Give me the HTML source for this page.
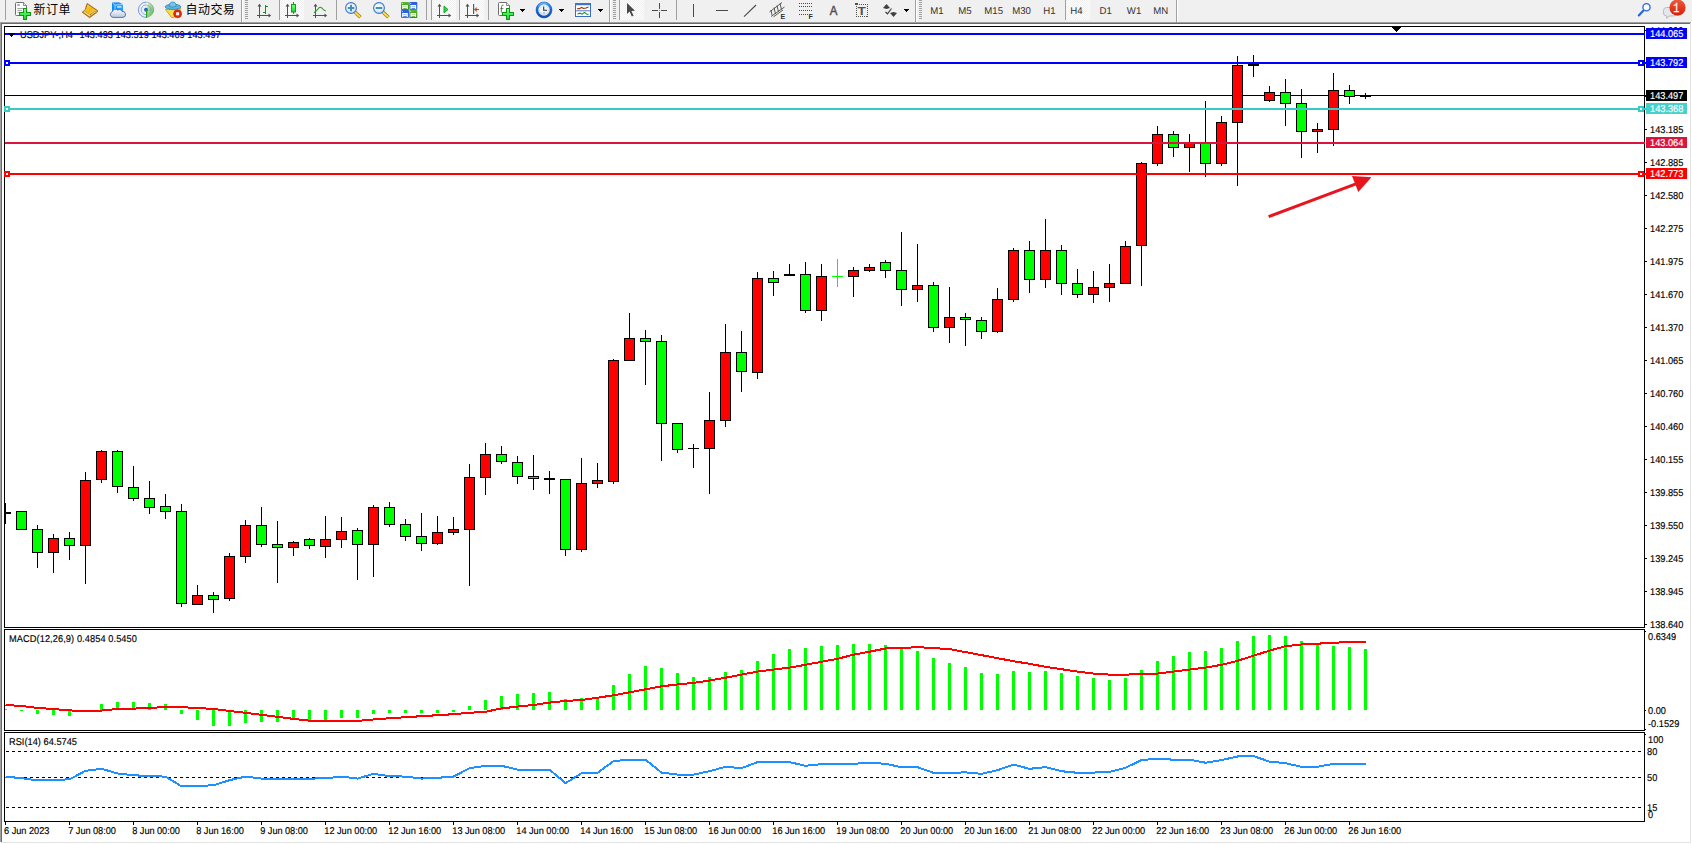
<!DOCTYPE html>
<html lang="zh"><head><meta charset="utf-8"><title>USDJPY H4</title>
<style>
html,body{margin:0;padding:0}
body{width:1692px;height:844px;overflow:hidden;position:relative;background:#fff;font-family:"Liberation Sans","Noto Sans CJK SC",sans-serif}
#tb{position:absolute;left:0;top:0;width:1692px;height:22px;background:#F0F0F0}
.fr{position:absolute}
svg#ch{position:absolute;left:0;top:0}
svg#ch text{font-family:"Liberation Sans","Noto Sans CJK SC",sans-serif;font-size:9.9px;text-rendering:geometricPrecision}
</style></head><body>
<div id="tb"><svg width="1692" height="22" viewBox="0 0 1692 22" style="position:absolute;left:0;top:0;font-family:'Liberation Sans','Noto Sans CJK SC',sans-serif">
<defs>
<pattern id="chk" width="2" height="2" patternUnits="userSpaceOnUse"><rect width="2" height="2" fill="#fff"/><rect width="1" height="1" fill="#F0F0F0"/><rect x="1" y="1" width="1" height="1" fill="#F0F0F0"/></pattern>
<linearGradient id="gplus" x1="0" y1="0" x2="0" y2="1"><stop offset="0" stop-color="#7CFF8C"/><stop offset="1" stop-color="#12D62A"/></linearGradient>
<linearGradient id="ggold" x1="0" y1="0" x2="1" y2="1"><stop offset="0" stop-color="#FFE14A"/><stop offset="0.5" stop-color="#EDB616"/><stop offset="1" stop-color="#F8D860"/></linearGradient>
<linearGradient id="gcloud" x1="0" y1="0" x2="0" y2="1"><stop offset="0" stop-color="#FFFFFF"/><stop offset="1" stop-color="#B8C6DE"/></linearGradient>
<linearGradient id="gblue" x1="0" y1="0" x2="1" y2="0"><stop offset="0" stop-color="#0A8CF5"/><stop offset="1" stop-color="#2AA0FF"/></linearGradient>
<radialGradient id="glens" cx="0.4" cy="0.35" r="0.7"><stop offset="0" stop-color="#FFFFFF"/><stop offset="1" stop-color="#C4E2F5"/></radialGradient>
<linearGradient id="gbadge" x1="0" y1="0" x2="0" y2="1"><stop offset="0" stop-color="#EC5A3C"/><stop offset="1" stop-color="#D81E08"/></linearGradient>
<radialGradient id="gclock" cx="0.5" cy="0.4" r="0.6"><stop offset="0" stop-color="#FFFFFF"/><stop offset="1" stop-color="#D8E4F0"/></radialGradient>
<linearGradient id="gsig" x1="0" y1="0" x2="1" y2="1"><stop offset="0" stop-color="#E4F0DC"/><stop offset="1" stop-color="#3CA83C"/></linearGradient>
<linearGradient id="ggreen" x1="0" y1="0" x2="0" y2="1"><stop offset="0" stop-color="#5CB830"/><stop offset="1" stop-color="#2E9010"/></linearGradient>
<linearGradient id="gblu2" x1="0" y1="0" x2="0" y2="1"><stop offset="0" stop-color="#2A5CD8"/><stop offset="1" stop-color="#3C78F0"/></linearGradient>
<linearGradient id="gring" x1="0" y1="0" x2="0" y2="1"><stop offset="0" stop-color="#3C9CF4"/><stop offset="0.5" stop-color="#1466D4"/><stop offset="1" stop-color="#0C50B8"/></linearGradient>
</defs>
<rect x="5" y="0" width="1" height="20" fill="#A0A0A0" shape-rendering="crispEdges"/>
<path d="M16.5,2.5 h7 l3,3 v10 h-10 a1,1 0 0 1 -1,-1 v-11 a1,1 0 0 1 1,-1 z" fill="#fff" stroke="#6E6E6E" stroke-width="1"/>
<path d="M23.5,2.5 v3 h3" fill="#E8E8E8" stroke="#6E6E6E" stroke-width="0.8"/>
<rect x="17" y="4.3" width="3" height="1.4" fill="#9A9A9A"/><g stroke="#9A9A9A" stroke-width="0.9"><line x1="17.3" y1="8.5" x2="23" y2="8.5"/><line x1="17.3" y1="10.4" x2="22" y2="10.4"/><line x1="17.3" y1="12.3" x2="20" y2="12.3"/></g>
<path d="M23.5,8.5 h3 v4.0 h4.0 v3 h-4.0 v4.0 h-3 v-4.0 h-4.0 v-3 h4.0 z" fill="url(#gplus)" stroke="#0C980C" stroke-width="1" shape-rendering="crispEdges"/>
<text x="33.6" y="13.8" font-size="12" letter-spacing="0.5" fill="#000">新订单</text>
<path d="M87.2,3.4 L97.6,10.6 L97.4,12 L89.6,17.7 L82.2,12.2 Q86.6,9.6 86,6.6 Z" fill="#B87A14" stroke="#A4660C" stroke-width="0.8" stroke-linejoin="round"/>
<path d="M87.6,4.6 L96.2,10.6 L89.8,14.6 L84.2,10.8 Q87.2,8.6 87,6.4 Z" fill="url(#ggold)"/>
<path d="M83.4,12 L89.6,16.4 L90.2,15.2 L84.4,11.2 Z" fill="#F8E08C"/><path d="M90.4,15.4 L96.8,11" stroke="#E8D8A0" stroke-width="0.9" fill="none"/>
<path d="M112,2.6 L119,2.2 L123,4.2 L123,11.5 L112,11.5 Z" fill="url(#gblue)"/>
<path d="M112.6,3 L115,5 V11.5 M115,5 L123,4.6" stroke="#DDF0FF" stroke-width="0.7" fill="none"/><rect x="117" y="6.3" width="4.5" height="1.3" fill="#E8F4FF"/>
<path d="M113,17.4 a3,3 0 0 1 -0.6,-5.8 a3.2,3.2 0 0 1 5.4,-1.4 a2.6,2.6 0 0 1 4.2,1.2 a3,3 0 0 1 1,6 z" fill="url(#gcloud)" stroke="#4A68A8" stroke-width="0.9"/>
<circle cx="146" cy="9.8" r="7.6" fill="#EEF2F8"/>
<path d="M146,9.8 L146,17.6 A7.8,7.8 0 0 0 148.5,2.4 Z" fill="url(#gsig)" opacity="0.9"/>
<g fill="none" stroke="#3A6CD8" stroke-width="0.9" opacity="0.75"><path d="M146,2.2 A7.6,7.6 0 0 0 146,17.4"/><path d="M146,5 A4.8,4.8 0 0 0 146,14.6" opacity="0.8"/></g>
<g fill="none" stroke="#3E7A80" stroke-width="0.8" opacity="0.5"><path d="M146,2.2 A7.6,7.6 0 0 1 153,13"/><path d="M146,5 A4.8,4.8 0 0 1 150.6,11"/></g>
<circle cx="146" cy="9.8" r="2" fill="#2A62D4"/><rect x="146" y="9.8" width="1.2" height="8" fill="#1EA41E"/>
<path d="M165.4,9.4 L180.8,8.6 L174,17.6 L171.5,17.4 Z" fill="#F6DC48" stroke="#C8A208" stroke-width="0.9" stroke-linejoin="round"/>
<ellipse cx="173" cy="6.8" rx="7.8" ry="2.6" fill="#62B4E4" stroke="#2C8CB4" stroke-width="0.9"/><path d="M169.3,6.3 Q169.3,2 172.8,2 Q176.2,2 176.2,6.3 Q172.8,8 169.3,6.3 Z" fill="#7AC2EC" stroke="#2C8CB4" stroke-width="0.8"/>
<circle cx="177.6" cy="13.8" r="4" fill="#E42A0A" stroke="#C01800" stroke-width="0.6"/><rect x="176.1" y="12.3" width="3" height="3" fill="#fff"/>
<text x="185.6" y="13.7" font-size="12" letter-spacing="0.4" fill="#000">自动交易</text>
<rect x="241" y="0" width="1" height="22" fill="#A0A0A0" shape-rendering="crispEdges"/>
<rect x="242" y="0" width="1" height="22" fill="#fff" shape-rendering="crispEdges"/>
<rect x="245" y="0" width="3" height="1" fill="#A0A0A0" shape-rendering="crispEdges"/>
<rect x="245" y="2" width="3" height="1" fill="#A0A0A0" shape-rendering="crispEdges"/>
<rect x="245" y="4" width="3" height="1" fill="#A0A0A0" shape-rendering="crispEdges"/>
<rect x="245" y="6" width="3" height="1" fill="#A0A0A0" shape-rendering="crispEdges"/>
<rect x="245" y="8" width="3" height="1" fill="#A0A0A0" shape-rendering="crispEdges"/>
<rect x="245" y="10" width="3" height="1" fill="#A0A0A0" shape-rendering="crispEdges"/>
<rect x="245" y="12" width="3" height="1" fill="#A0A0A0" shape-rendering="crispEdges"/>
<rect x="245" y="14" width="3" height="1" fill="#A0A0A0" shape-rendering="crispEdges"/>
<rect x="245" y="16" width="3" height="1" fill="#A0A0A0" shape-rendering="crispEdges"/>
<rect x="245" y="18" width="3" height="1" fill="#A0A0A0" shape-rendering="crispEdges"/>
<g fill="#505050" shape-rendering="crispEdges"><rect x="259" y="5" width="1" height="13"/><rect x="257" y="15" width="13" height="1"/></g>
<polygon points="257.5,6.5 259.5,3.8 261.5,6.5" fill="#505050"/><polygon points="268.5,13.5 271.2,15.5 268.5,17.5" fill="#505050"/>
<g fill="#109410" shape-rendering="crispEdges"><rect x="265" y="5" width="1" height="9"/><rect x="266" y="6" width="2" height="1"/><rect x="263" y="12" width="2" height="1"/></g>
<rect x="279" y="0" width="1" height="20" fill="#A0A0A0" shape-rendering="crispEdges"/>
<rect x="280" y="0" width="24" height="20" fill="url(#chk)" shape-rendering="crispEdges"/>
<g fill="#505050" shape-rendering="crispEdges"><rect x="287" y="5" width="1" height="13"/><rect x="285" y="15" width="13" height="1"/></g>
<polygon points="285.5,6.5 287.5,3.8 289.5,6.5" fill="#505050"/><polygon points="296.5,13.5 299.2,15.5 296.5,17.5" fill="#505050"/>
<rect x="293" y="2" width="1" height="12" fill="#10A010" shape-rendering="crispEdges"/><rect x="291.5" y="4.5" width="4" height="7.5" fill="url(#gplus)" stroke="#10A010" stroke-width="1"/>
<g fill="#505050" shape-rendering="crispEdges"><rect x="315" y="5" width="1" height="13"/><rect x="313" y="15" width="13" height="1"/></g>
<polygon points="313.5,6.5 315.5,3.8 317.5,6.5" fill="#505050"/><polygon points="324.5,13.5 327.2,15.5 324.5,17.5" fill="#505050"/>
<path d="M314,12.8 Q317,10.5 318.6,8.2 Q320.2,6.4 321.8,8 Q323.6,10.2 325.8,11" fill="none" stroke="#2E9A2E" stroke-width="1.1"/>
<rect x="336" y="0" width="1" height="20" fill="#A0A0A0" shape-rendering="crispEdges"/>
<line x1="354.6" y1="11.8" x2="360.4" y2="17.3" stroke="#B48410" stroke-width="3.6"/><line x1="354.6" y1="11.8" x2="360" y2="16.9" stroke="#F6E25C" stroke-width="1.8"/>
<circle cx="351" cy="8" r="5.4" fill="url(#glens)" stroke="#3A78C8" stroke-width="1.1"/>
<rect x="347.8" y="7" width="6.4" height="2" fill="#4A8CB4"/>
<rect x="350" y="4.8" width="2" height="6.4" fill="#4A8CB4"/>
<line x1="382.6" y1="11.8" x2="388.4" y2="17.3" stroke="#B48410" stroke-width="3.6"/><line x1="382.6" y1="11.8" x2="388" y2="16.9" stroke="#F6E25C" stroke-width="1.8"/>
<circle cx="379" cy="8" r="5.4" fill="url(#glens)" stroke="#3A78C8" stroke-width="1.1"/>
<rect x="375.8" y="7" width="6.4" height="2" fill="#4A8CB4"/>
<rect x="401" y="2" width="8" height="8" rx="0.8" fill="url(#ggreen)"/><rect x="402.2" y="5" width="5.6" height="4" fill="#fff"/><rect x="403.2" y="6.3" width="3.6" height="0.9" fill="#9CD078"/><rect x="403.2" y="8.2" width="3.6" height="0.8" fill="url(#ggreen)"/><rect x="401.9" y="2.9" width="1" height="1" fill="#fff" opacity="0.8"/>
<rect x="409.3" y="2" width="8" height="8" rx="0.8" fill="url(#gblu2)"/><rect x="410.5" y="5" width="5.6" height="4" fill="#fff"/><rect x="411.5" y="6.3" width="3.6" height="0.9" fill="#8CB0F4"/><rect x="411.5" y="8.2" width="3.6" height="0.8" fill="url(#gblu2)"/><rect x="410.2" y="2.9" width="1" height="1" fill="#fff" opacity="0.8"/>
<rect x="401" y="10" width="8" height="8" rx="0.8" fill="url(#gblu2)"/><rect x="402.2" y="13" width="5.6" height="4" fill="#fff"/><rect x="403.2" y="14.3" width="3.6" height="0.9" fill="#8CB0F4"/><rect x="403.2" y="16.2" width="3.6" height="0.8" fill="url(#gblu2)"/><rect x="401.9" y="10.9" width="1" height="1" fill="#fff" opacity="0.8"/>
<rect x="409.3" y="10" width="8" height="8" rx="0.8" fill="url(#ggreen)"/><rect x="410.5" y="13" width="5.6" height="4" fill="#fff"/><rect x="411.5" y="14.3" width="3.6" height="0.9" fill="#9CD078"/><rect x="411.5" y="16.2" width="3.6" height="0.8" fill="url(#ggreen)"/><rect x="410.2" y="10.9" width="1" height="1" fill="#fff" opacity="0.8"/>
<rect x="426" y="0" width="1" height="20" fill="#A0A0A0" shape-rendering="crispEdges"/>
<rect x="431" y="0" width="1" height="20" fill="#A0A0A0" shape-rendering="crispEdges"/>
<rect x="432" y="0" width="24" height="20" fill="url(#chk)" shape-rendering="crispEdges"/>
<g fill="#505050" shape-rendering="crispEdges"><rect x="439" y="5" width="1" height="13"/><rect x="437" y="15" width="13" height="1"/></g>
<polygon points="437.5,6.5 439.5,3.8 441.5,6.5" fill="#505050"/><polygon points="448.5,13.5 451.2,15.5 448.5,17.5" fill="#505050"/>
<path d="M444,6 L448,9.5 L444,13 Z" fill="#30D050" stroke="#10A020" stroke-width="0.9"/>
<rect x="459" y="0" width="1" height="20" fill="#A0A0A0" shape-rendering="crispEdges"/>
<rect x="460" y="0" width="24" height="20" fill="url(#chk)" shape-rendering="crispEdges"/>
<g fill="#505050" shape-rendering="crispEdges"><rect x="467" y="5" width="1" height="13"/><rect x="465" y="15" width="13" height="1"/></g>
<polygon points="465.5,6.5 467.5,3.8 469.5,6.5" fill="#505050"/><polygon points="476.5,13.5 479.2,15.5 476.5,17.5" fill="#505050"/>
<rect x="473" y="4" width="1.2" height="10" fill="#1C6CA8"/><path d="M474,9.5 L477,7 L476.5,9 L479,9 L479,10 L476.5,10 L477,12 Z" fill="#E03808"/>
<rect x="488" y="0" width="1" height="20" fill="#A0A0A0" shape-rendering="crispEdges"/>
<path d="M499.5,2.5 h7 l3,3 v10 h-10 a1,1 0 0 1 -1,-1 v-11 a1,1 0 0 1 1,-1 z" fill="#fff" stroke="#6E6E6E" stroke-width="1"/>
<path d="M506.5,2.5 v3 h3" fill="#E8E8E8" stroke="#6E6E6E" stroke-width="0.8"/>
<path d="M503.6,5.2 Q501.6,4.6 501.5,6.6 L501.3,12.6 M500.3,8.6 H503.4" fill="none" stroke="#5A5040" stroke-width="0.8"/>
<path d="M506.5,8.5 h3 v4.0 h4.0 v3 h-4.0 v4.0 h-3 v-4.0 h-4.0 v-3 h4.0 z" fill="url(#gplus)" stroke="#0C980C" stroke-width="1" shape-rendering="crispEdges"/>
<polygon points="519.5,9 525.5,9 522.5,12" fill="#000" shape-rendering="crispEdges"/>
<circle cx="544" cy="10" r="6.9" fill="url(#gclock)" stroke="url(#gring)" stroke-width="2.3"/><circle cx="544" cy="10" r="8" fill="none" stroke="#0C4CA8" stroke-width="0.5"/><path d="M538.4,6.2 A6.9,6.9 0 0 1 546.5,3.6" fill="none" stroke="#7CC4FF" stroke-width="1" opacity="0.8"/>
<g fill="#9AA4B4"><circle cx="544.00" cy="5.50" r="0.42"/><circle cx="546.25" cy="6.10" r="0.42"/><circle cx="547.90" cy="7.75" r="0.42"/><circle cx="548.50" cy="10.00" r="0.42"/><circle cx="547.90" cy="12.25" r="0.42"/><circle cx="546.25" cy="13.90" r="0.42"/><circle cx="544.00" cy="14.50" r="0.42"/><circle cx="541.75" cy="13.90" r="0.42"/><circle cx="540.10" cy="12.25" r="0.42"/><circle cx="539.50" cy="10.00" r="0.42"/><circle cx="540.10" cy="7.75" r="0.42"/><circle cx="541.75" cy="6.10" r="0.42"/></g>
<path d="M543.7,6.4 V10.2 H547" fill="none" stroke="#282828" stroke-width="1.1"/><rect x="543" y="12.6" width="2" height="0.8" fill="#4A90E0"/>
<polygon points="558.5,9 564.5,9 561.5,12" fill="#000" shape-rendering="crispEdges"/>
<rect x="575.5" y="3.5" width="15" height="13" fill="#fff" stroke="#3C6CC0" stroke-width="1"/><rect x="575" y="3" width="16" height="2.2" fill="#3C74D0"/><line x1="575.5" y1="10.8" x2="590.5" y2="10.8" stroke="#3C6CC0" stroke-width="0.9"/>
<path d="M577,8.8 L579.5,8.6 L581.5,7.4 L583.5,8.4 L586,8 L588.5,7" fill="none" stroke="#A82810" stroke-width="1.1"/><path d="M577.5,14 L580,13.2 L582,14.2 L584.5,12.4 L586.5,14 L588.5,14.4" fill="none" stroke="#189028" stroke-width="1.1"/>
<polygon points="597.5,9 603.5,9 600.5,12" fill="#000" shape-rendering="crispEdges"/>
<rect x="609" y="0" width="1" height="22" fill="#A0A0A0" shape-rendering="crispEdges"/>
<rect x="610" y="0" width="1" height="22" fill="#fff" shape-rendering="crispEdges"/>
<rect x="613" y="0" width="3" height="1" fill="#A0A0A0" shape-rendering="crispEdges"/>
<rect x="613" y="2" width="3" height="1" fill="#A0A0A0" shape-rendering="crispEdges"/>
<rect x="613" y="4" width="3" height="1" fill="#A0A0A0" shape-rendering="crispEdges"/>
<rect x="613" y="6" width="3" height="1" fill="#A0A0A0" shape-rendering="crispEdges"/>
<rect x="613" y="8" width="3" height="1" fill="#A0A0A0" shape-rendering="crispEdges"/>
<rect x="613" y="10" width="3" height="1" fill="#A0A0A0" shape-rendering="crispEdges"/>
<rect x="613" y="12" width="3" height="1" fill="#A0A0A0" shape-rendering="crispEdges"/>
<rect x="613" y="14" width="3" height="1" fill="#A0A0A0" shape-rendering="crispEdges"/>
<rect x="613" y="16" width="3" height="1" fill="#A0A0A0" shape-rendering="crispEdges"/>
<rect x="613" y="18" width="3" height="1" fill="#A0A0A0" shape-rendering="crispEdges"/>
<rect x="619" y="0" width="1" height="20" fill="#A0A0A0" shape-rendering="crispEdges"/>
<rect x="620" y="0" width="24" height="20" fill="url(#chk)" shape-rendering="crispEdges"/>
<path d="M627,3 L627,14 L629.6,11.6 L631.8,16.6 L633.6,15.8 L631.4,11 L635,10.8 Z" fill="#4A4A4A"/>
<g fill="#4A4A4A" shape-rendering="crispEdges"><rect x="659" y="3" width="1" height="6"/><rect x="659" y="12" width="1" height="6"/><rect x="652" y="10" width="6" height="1"/><rect x="661" y="10" width="6" height="1"/><rect x="659" y="10" width="1" height="1" opacity="0.6"/></g>
<rect x="676" y="0" width="1" height="20" fill="#A0A0A0" shape-rendering="crispEdges"/>
<rect x="693" y="4" width="1" height="13" fill="#4A4A4A" shape-rendering="crispEdges"/>
<rect x="716" y="10" width="12" height="1" fill="#4A4A4A" shape-rendering="crispEdges"/>
<line x1="744" y1="16.6" x2="756" y2="5" stroke="#4A4A4A" stroke-width="1.1"/>
<g stroke="#4A4A4A" stroke-width="0.9" fill="none"><line x1="769.5" y1="12" x2="782" y2="2.5"/><line x1="771" y1="16.5" x2="784.5" y2="7"/><line x1="773.5" y1="16.8" x2="783" y2="10"/><path d="M771,10 l1,5 M774,7.5 l1.5,6.5 M777,5.5 l1.5,6.5 M780,3.5 l1.5,6"/></g>
<text x="780.6" y="19" font-size="7" font-weight="bold" fill="#303030">E</text>
<line x1="799" y1="3.5" x2="813" y2="3.5" stroke="#4A4A4A" stroke-width="1" stroke-dasharray="1,1" shape-rendering="crispEdges"/>
<line x1="799" y1="6.5" x2="813" y2="6.5" stroke="#4A4A4A" stroke-width="1" stroke-dasharray="1,1" shape-rendering="crispEdges"/>
<line x1="799" y1="10.5" x2="813" y2="10.5" stroke="#4A4A4A" stroke-width="1" stroke-dasharray="1,1" shape-rendering="crispEdges"/>
<line x1="799" y1="14.5" x2="808" y2="14.5" stroke="#4A4A4A" stroke-width="1" stroke-dasharray="1,1" shape-rendering="crispEdges"/>
<text x="808.4" y="19" font-size="7" font-weight="bold" fill="#303030">F</text>
<text transform="translate(829.8,15) scale(0.88,1)" font-size="13" fill="#505050" stroke="#505050" stroke-width="0.5">A</text>
<rect x="856.5" y="4.5" width="11" height="12" fill="none" stroke="#505050" stroke-width="1" stroke-dasharray="1,1" shape-rendering="crispEdges"/><rect x="855" y="3" width="3" height="2" fill="#505050"/>
<text transform="translate(857.6,14.8) scale(1.3,1)" font-size="10.5" font-weight="bold" fill="#505050">T</text>
<path d="M883,8 L886.5,4 L890,8 L886.5,9 Z" fill="#404040"/><path d="M890,13 L893.5,17 L897,13 L893.5,12 Z" fill="#404040"/><path d="M885.5,12 L887.5,13.8 L891.5,8.5" fill="none" stroke="#404040" stroke-width="1.2"/>
<polygon points="903.5,9 909.5,9 906.5,12" fill="#000" shape-rendering="crispEdges"/>
<rect x="915" y="0" width="1" height="22" fill="#A0A0A0" shape-rendering="crispEdges"/>
<rect x="916" y="0" width="1" height="22" fill="#fff" shape-rendering="crispEdges"/>
<rect x="919" y="0" width="3" height="1" fill="#A0A0A0" shape-rendering="crispEdges"/>
<rect x="919" y="2" width="3" height="1" fill="#A0A0A0" shape-rendering="crispEdges"/>
<rect x="919" y="4" width="3" height="1" fill="#A0A0A0" shape-rendering="crispEdges"/>
<rect x="919" y="6" width="3" height="1" fill="#A0A0A0" shape-rendering="crispEdges"/>
<rect x="919" y="8" width="3" height="1" fill="#A0A0A0" shape-rendering="crispEdges"/>
<rect x="919" y="10" width="3" height="1" fill="#A0A0A0" shape-rendering="crispEdges"/>
<rect x="919" y="12" width="3" height="1" fill="#A0A0A0" shape-rendering="crispEdges"/>
<rect x="919" y="14" width="3" height="1" fill="#A0A0A0" shape-rendering="crispEdges"/>
<rect x="919" y="16" width="3" height="1" fill="#A0A0A0" shape-rendering="crispEdges"/>
<rect x="919" y="18" width="3" height="1" fill="#A0A0A0" shape-rendering="crispEdges"/>
<rect x="1065" y="0" width="1" height="20" fill="#A0A0A0" shape-rendering="crispEdges"/>
<rect x="1066" y="0" width="24" height="20" fill="url(#chk)" shape-rendering="crispEdges"/>
<text transform="translate(930.2,14) scale(0.975,1)" font-size="9.9" fill="#303030" style="text-rendering:geometricPrecision">M1</text>
<text transform="translate(958.3,14) scale(0.975,1)" font-size="9.9" fill="#303030" style="text-rendering:geometricPrecision">M5</text>
<text transform="translate(984.3,14) scale(0.975,1)" font-size="9.9" fill="#303030" style="text-rendering:geometricPrecision">M15</text>
<text transform="translate(1012.2,14) scale(0.975,1)" font-size="9.9" fill="#303030" style="text-rendering:geometricPrecision">M30</text>
<text transform="translate(1043.2,14) scale(0.975,1)" font-size="9.9" fill="#303030" style="text-rendering:geometricPrecision">H1</text>
<text transform="translate(1070.3,14) scale(0.975,1)" font-size="9.9" fill="#303030" style="text-rendering:geometricPrecision">H4</text>
<text transform="translate(1099.6,14) scale(0.975,1)" font-size="9.9" fill="#303030" style="text-rendering:geometricPrecision">D1</text>
<text transform="translate(1126.8,14) scale(0.975,1)" font-size="9.9" fill="#303030" style="text-rendering:geometricPrecision">W1</text>
<text transform="translate(1153.3,14) scale(0.975,1)" font-size="9.9" fill="#303030" style="text-rendering:geometricPrecision">MN</text>
<rect x="1176" y="0" width="1" height="22" fill="#A0A0A0" shape-rendering="crispEdges"/>
<rect x="1177" y="0" width="1" height="22" fill="#fff" shape-rendering="crispEdges"/>
<line x1="1643.2" y1="10.8" x2="1638.8" y2="15.4" stroke="#2A64D8" stroke-width="2.2" stroke-linecap="round"/><circle cx="1646.5" cy="7.3" r="3.6" fill="#FAFAFF" stroke="#2A64D8" stroke-width="1.3"/>
<path d="M1666.5,7.5 h7 a3,3 0 0 1 3,3 v2.5 a3,3 0 0 1 -3,3 h-4.5 l-2.3,2.6 l0.2,-2.6 h-0.4 a3,3 0 0 1 -3,-3 v-2.5 a3,3 0 0 1 3,-3 z" fill="#E4E6F0" stroke="#B4B4B8" stroke-width="0.9"/>
<circle cx="1677.5" cy="7.6" r="8.1" fill="url(#gbadge)"/>
<text transform="translate(1676.3,12) scale(0.78,1)" font-size="13" text-anchor="middle" fill="#fff" stroke="#fff" stroke-width="0.3" font-family="Liberation Mono,monospace">1</text>
</svg></div>
<div class="fr" style="left:0;top:22px;width:1691px;height:1px;background:#A0A0A0"></div>
<div class="fr" style="left:0;top:22px;width:1px;height:820px;background:#A0A0A0"></div>
<div class="fr" style="left:1px;top:23px;width:1689px;height:1px;background:#696969"></div>
<div class="fr" style="left:1px;top:23px;width:1px;height:819px;background:#696969"></div>
<div class="fr" style="left:1690px;top:23px;width:1px;height:820px;background:#E3E3E3"></div>
<div class="fr" style="left:1px;top:842px;width:1690px;height:1px;background:#E3E3E3"></div>
<svg id="ch" width="1692" height="844" viewBox="0 0 1692 844" shape-rendering="crispEdges">
<rect x="4" y="26" width="1641" height="1" fill="#000"/>
<rect x="4" y="627" width="1641" height="1" fill="#000"/>
<rect x="4" y="26" width="1" height="602" fill="#000"/>
<rect x="1644" y="26" width="1" height="602" fill="#000"/>
<rect x="4" y="629" width="1641" height="1" fill="#000"/>
<rect x="4" y="730" width="1641" height="1" fill="#000"/>
<rect x="4" y="629" width="1" height="102" fill="#000"/>
<rect x="1644" y="629" width="1" height="102" fill="#000"/>
<rect x="4" y="732" width="1641" height="1" fill="#000"/>
<rect x="4" y="821" width="1641" height="1" fill="#000"/>
<rect x="4" y="732" width="1" height="90" fill="#000"/>
<rect x="1644" y="732" width="1" height="90" fill="#000"/>
<text transform="translate(20,38) scale(0.934,1)" fill="#000" stroke="#000" stroke-width="0.15" text-anchor="start" >USDJPY-,H4</text>
<text transform="translate(79.6,38) scale(0.934,1)" fill="#000" stroke="#000" stroke-width="0.15" text-anchor="start" >143.493 143.519 143.469 143.497</text>
<rect x="5" y="95" width="1641" height="1" fill="#000"/>
<rect x="21" y="511" width="1" height="19" fill="#000"/>
<rect x="16" y="511" width="11" height="19" fill="#000"/>
<rect x="17" y="512" width="9" height="17" fill="#00FF00"/>
<rect x="37" y="525" width="1" height="43" fill="#000"/>
<rect x="32" y="529" width="11" height="24" fill="#000"/>
<rect x="33" y="530" width="9" height="22" fill="#00FF00"/>
<rect x="53" y="534" width="1" height="39" fill="#000"/>
<rect x="48" y="538" width="11" height="15" fill="#000"/>
<rect x="49" y="539" width="9" height="13" fill="#FF0000"/>
<rect x="69" y="532" width="1" height="28" fill="#000"/>
<rect x="64" y="538" width="11" height="8" fill="#000"/>
<rect x="65" y="539" width="9" height="6" fill="#00FF00"/>
<rect x="85" y="472" width="1" height="112" fill="#000"/>
<rect x="80" y="480" width="11" height="66" fill="#000"/>
<rect x="81" y="481" width="9" height="64" fill="#FF0000"/>
<rect x="101" y="450" width="1" height="33" fill="#000"/>
<rect x="96" y="451" width="11" height="29" fill="#000"/>
<rect x="97" y="452" width="9" height="27" fill="#FF0000"/>
<rect x="117" y="450" width="1" height="43" fill="#000"/>
<rect x="112" y="451" width="11" height="36" fill="#000"/>
<rect x="113" y="452" width="9" height="34" fill="#00FF00"/>
<rect x="133" y="466" width="1" height="35" fill="#000"/>
<rect x="128" y="487" width="11" height="12" fill="#000"/>
<rect x="129" y="488" width="9" height="10" fill="#00FF00"/>
<rect x="149" y="481" width="1" height="33" fill="#000"/>
<rect x="144" y="498" width="11" height="10" fill="#000"/>
<rect x="145" y="499" width="9" height="8" fill="#00FF00"/>
<rect x="165" y="494" width="1" height="25" fill="#000"/>
<rect x="160" y="506" width="11" height="6" fill="#000"/>
<rect x="161" y="507" width="9" height="4" fill="#00FF00"/>
<rect x="181" y="504" width="1" height="103" fill="#000"/>
<rect x="176" y="511" width="11" height="93" fill="#000"/>
<rect x="177" y="512" width="9" height="91" fill="#00FF00"/>
<rect x="197" y="585" width="1" height="20" fill="#000"/>
<rect x="192" y="595" width="11" height="10" fill="#000"/>
<rect x="193" y="596" width="9" height="8" fill="#FF0000"/>
<rect x="213" y="592" width="1" height="21" fill="#000"/>
<rect x="208" y="595" width="11" height="5" fill="#000"/>
<rect x="209" y="596" width="9" height="3" fill="#00FF00"/>
<rect x="229" y="553" width="1" height="48" fill="#000"/>
<rect x="224" y="556" width="11" height="43" fill="#000"/>
<rect x="225" y="557" width="9" height="41" fill="#FF0000"/>
<rect x="245" y="520" width="1" height="43" fill="#000"/>
<rect x="240" y="525" width="11" height="32" fill="#000"/>
<rect x="241" y="526" width="9" height="30" fill="#FF0000"/>
<rect x="261" y="507" width="1" height="40" fill="#000"/>
<rect x="256" y="525" width="11" height="20" fill="#000"/>
<rect x="257" y="526" width="9" height="18" fill="#00FF00"/>
<rect x="277" y="521" width="1" height="62" fill="#000"/>
<rect x="272" y="544" width="11" height="4" fill="#000"/>
<rect x="273" y="545" width="9" height="2" fill="#00FF00"/>
<rect x="293" y="541" width="1" height="15" fill="#000"/>
<rect x="288" y="542" width="11" height="6" fill="#000"/>
<rect x="289" y="543" width="9" height="4" fill="#FF0000"/>
<rect x="309" y="538" width="1" height="11" fill="#000"/>
<rect x="304" y="539" width="11" height="7" fill="#000"/>
<rect x="305" y="540" width="9" height="5" fill="#00FF00"/>
<rect x="325" y="516" width="1" height="42" fill="#000"/>
<rect x="320" y="539" width="11" height="8" fill="#000"/>
<rect x="321" y="540" width="9" height="6" fill="#FF0000"/>
<rect x="341" y="517" width="1" height="31" fill="#000"/>
<rect x="336" y="531" width="11" height="9" fill="#000"/>
<rect x="337" y="532" width="9" height="7" fill="#FF0000"/>
<rect x="357" y="528" width="1" height="52" fill="#000"/>
<rect x="352" y="530" width="11" height="15" fill="#000"/>
<rect x="353" y="531" width="9" height="13" fill="#00FF00"/>
<rect x="373" y="505" width="1" height="72" fill="#000"/>
<rect x="368" y="507" width="11" height="38" fill="#000"/>
<rect x="369" y="508" width="9" height="36" fill="#FF0000"/>
<rect x="389" y="502" width="1" height="25" fill="#000"/>
<rect x="384" y="507" width="11" height="18" fill="#000"/>
<rect x="385" y="508" width="9" height="16" fill="#00FF00"/>
<rect x="405" y="519" width="1" height="22" fill="#000"/>
<rect x="400" y="524" width="11" height="13" fill="#000"/>
<rect x="401" y="525" width="9" height="11" fill="#00FF00"/>
<rect x="421" y="513" width="1" height="38" fill="#000"/>
<rect x="416" y="536" width="11" height="8" fill="#000"/>
<rect x="417" y="537" width="9" height="6" fill="#00FF00"/>
<rect x="437" y="516" width="1" height="29" fill="#000"/>
<rect x="432" y="532" width="11" height="12" fill="#000"/>
<rect x="433" y="533" width="9" height="10" fill="#FF0000"/>
<rect x="453" y="517" width="1" height="18" fill="#000"/>
<rect x="448" y="529" width="11" height="4" fill="#000"/>
<rect x="449" y="530" width="9" height="2" fill="#FF0000"/>
<rect x="469" y="464" width="1" height="122" fill="#000"/>
<rect x="464" y="477" width="11" height="53" fill="#000"/>
<rect x="465" y="478" width="9" height="51" fill="#FF0000"/>
<rect x="485" y="443" width="1" height="52" fill="#000"/>
<rect x="480" y="454" width="11" height="24" fill="#000"/>
<rect x="481" y="455" width="9" height="22" fill="#FF0000"/>
<rect x="501" y="446" width="1" height="18" fill="#000"/>
<rect x="496" y="454" width="11" height="8" fill="#000"/>
<rect x="497" y="455" width="9" height="6" fill="#00FF00"/>
<rect x="517" y="456" width="1" height="28" fill="#000"/>
<rect x="512" y="462" width="11" height="15" fill="#000"/>
<rect x="513" y="463" width="9" height="13" fill="#00FF00"/>
<rect x="533" y="455" width="1" height="35" fill="#000"/>
<rect x="528" y="476" width="11" height="3" fill="#000"/>
<rect x="529" y="477" width="9" height="1" fill="#00FF00"/>
<rect x="549" y="471" width="1" height="23" fill="#000"/>
<rect x="544" y="478" width="11" height="2" fill="#000"/>
<rect x="565" y="479" width="1" height="77" fill="#000"/>
<rect x="560" y="479" width="11" height="71" fill="#000"/>
<rect x="561" y="480" width="9" height="69" fill="#00FF00"/>
<rect x="581" y="458" width="1" height="94" fill="#000"/>
<rect x="576" y="483" width="11" height="67" fill="#000"/>
<rect x="577" y="484" width="9" height="65" fill="#FF0000"/>
<rect x="597" y="463" width="1" height="25" fill="#000"/>
<rect x="592" y="480" width="11" height="4" fill="#000"/>
<rect x="593" y="481" width="9" height="2" fill="#FF0000"/>
<rect x="613" y="359" width="1" height="125" fill="#000"/>
<rect x="608" y="360" width="11" height="122" fill="#000"/>
<rect x="609" y="361" width="9" height="120" fill="#FF0000"/>
<rect x="629" y="313" width="1" height="48" fill="#000"/>
<rect x="624" y="338" width="11" height="23" fill="#000"/>
<rect x="625" y="339" width="9" height="21" fill="#FF0000"/>
<rect x="645" y="330" width="1" height="55" fill="#000"/>
<rect x="640" y="338" width="11" height="4" fill="#000"/>
<rect x="641" y="339" width="9" height="2" fill="#00FF00"/>
<rect x="661" y="335" width="1" height="126" fill="#000"/>
<rect x="656" y="341" width="11" height="83" fill="#000"/>
<rect x="657" y="342" width="9" height="81" fill="#00FF00"/>
<rect x="677" y="423" width="1" height="30" fill="#000"/>
<rect x="672" y="423" width="11" height="27" fill="#000"/>
<rect x="673" y="424" width="9" height="25" fill="#00FF00"/>
<rect x="693" y="444" width="1" height="24" fill="#000"/>
<rect x="688" y="448" width="11" height="1" fill="#000"/>
<rect x="709" y="392" width="1" height="102" fill="#000"/>
<rect x="704" y="420" width="11" height="29" fill="#000"/>
<rect x="705" y="421" width="9" height="27" fill="#FF0000"/>
<rect x="725" y="324" width="1" height="103" fill="#000"/>
<rect x="720" y="352" width="11" height="69" fill="#000"/>
<rect x="721" y="353" width="9" height="67" fill="#FF0000"/>
<rect x="741" y="331" width="1" height="61" fill="#000"/>
<rect x="736" y="352" width="11" height="20" fill="#000"/>
<rect x="737" y="353" width="9" height="18" fill="#00FF00"/>
<rect x="757" y="272" width="1" height="107" fill="#000"/>
<rect x="752" y="278" width="11" height="95" fill="#000"/>
<rect x="753" y="279" width="9" height="93" fill="#FF0000"/>
<rect x="773" y="271" width="1" height="25" fill="#000"/>
<rect x="768" y="278" width="11" height="5" fill="#000"/>
<rect x="769" y="279" width="9" height="3" fill="#00FF00"/>
<rect x="789" y="264" width="1" height="12" fill="#000"/>
<rect x="784" y="274" width="11" height="2" fill="#000"/>
<rect x="805" y="262" width="1" height="51" fill="#000"/>
<rect x="800" y="274" width="11" height="37" fill="#000"/>
<rect x="801" y="275" width="9" height="35" fill="#00FF00"/>
<rect x="821" y="264" width="1" height="57" fill="#000"/>
<rect x="816" y="276" width="11" height="35" fill="#000"/>
<rect x="817" y="277" width="9" height="33" fill="#FF0000"/>
<rect x="837" y="259" width="1" height="28" fill="#00FF00"/>
<rect x="832" y="276" width="11" height="1" fill="#00FF00"/>
<rect x="853" y="267" width="1" height="30" fill="#000"/>
<rect x="848" y="270" width="11" height="7" fill="#000"/>
<rect x="849" y="271" width="9" height="5" fill="#FF0000"/>
<rect x="869" y="264" width="1" height="8" fill="#000"/>
<rect x="864" y="267" width="11" height="4" fill="#000"/>
<rect x="865" y="268" width="9" height="2" fill="#FF0000"/>
<rect x="885" y="260" width="1" height="18" fill="#000"/>
<rect x="880" y="262" width="11" height="9" fill="#000"/>
<rect x="881" y="263" width="9" height="7" fill="#00FF00"/>
<rect x="901" y="232" width="1" height="74" fill="#000"/>
<rect x="896" y="270" width="11" height="20" fill="#000"/>
<rect x="897" y="271" width="9" height="18" fill="#00FF00"/>
<rect x="917" y="244" width="1" height="58" fill="#000"/>
<rect x="912" y="285" width="11" height="5" fill="#000"/>
<rect x="913" y="286" width="9" height="3" fill="#FF0000"/>
<rect x="933" y="282" width="1" height="50" fill="#000"/>
<rect x="928" y="285" width="11" height="43" fill="#000"/>
<rect x="929" y="286" width="9" height="41" fill="#00FF00"/>
<rect x="949" y="287" width="1" height="56" fill="#000"/>
<rect x="944" y="317" width="11" height="11" fill="#000"/>
<rect x="945" y="318" width="9" height="9" fill="#FF0000"/>
<rect x="965" y="313" width="1" height="33" fill="#000"/>
<rect x="960" y="317" width="11" height="3" fill="#000"/>
<rect x="961" y="318" width="9" height="1" fill="#00FF00"/>
<rect x="981" y="317" width="1" height="22" fill="#000"/>
<rect x="976" y="320" width="11" height="12" fill="#000"/>
<rect x="977" y="321" width="9" height="10" fill="#00FF00"/>
<rect x="997" y="288" width="1" height="45" fill="#000"/>
<rect x="992" y="299" width="11" height="33" fill="#000"/>
<rect x="993" y="300" width="9" height="31" fill="#FF0000"/>
<rect x="1013" y="248" width="1" height="54" fill="#000"/>
<rect x="1008" y="250" width="11" height="50" fill="#000"/>
<rect x="1009" y="251" width="9" height="48" fill="#FF0000"/>
<rect x="1029" y="241" width="1" height="52" fill="#000"/>
<rect x="1024" y="250" width="11" height="30" fill="#000"/>
<rect x="1025" y="251" width="9" height="28" fill="#00FF00"/>
<rect x="1045" y="219" width="1" height="69" fill="#000"/>
<rect x="1040" y="250" width="11" height="30" fill="#000"/>
<rect x="1041" y="251" width="9" height="28" fill="#FF0000"/>
<rect x="1061" y="245" width="1" height="50" fill="#000"/>
<rect x="1056" y="250" width="11" height="34" fill="#000"/>
<rect x="1057" y="251" width="9" height="32" fill="#00FF00"/>
<rect x="1077" y="269" width="1" height="29" fill="#000"/>
<rect x="1072" y="283" width="11" height="12" fill="#000"/>
<rect x="1073" y="284" width="9" height="10" fill="#00FF00"/>
<rect x="1093" y="271" width="1" height="32" fill="#000"/>
<rect x="1088" y="287" width="11" height="8" fill="#000"/>
<rect x="1089" y="288" width="9" height="6" fill="#FF0000"/>
<rect x="1109" y="264" width="1" height="38" fill="#000"/>
<rect x="1104" y="283" width="11" height="5" fill="#000"/>
<rect x="1105" y="284" width="9" height="3" fill="#FF0000"/>
<rect x="1125" y="241" width="1" height="43" fill="#000"/>
<rect x="1120" y="246" width="11" height="38" fill="#000"/>
<rect x="1121" y="247" width="9" height="36" fill="#FF0000"/>
<rect x="1141" y="162" width="1" height="124" fill="#000"/>
<rect x="1136" y="163" width="11" height="83" fill="#000"/>
<rect x="1137" y="164" width="9" height="81" fill="#FF0000"/>
<rect x="1157" y="126" width="1" height="40" fill="#000"/>
<rect x="1152" y="134" width="11" height="30" fill="#000"/>
<rect x="1153" y="135" width="9" height="28" fill="#FF0000"/>
<rect x="1173" y="131" width="1" height="26" fill="#000"/>
<rect x="1168" y="134" width="11" height="14" fill="#000"/>
<rect x="1169" y="135" width="9" height="12" fill="#00FF00"/>
<rect x="1189" y="134" width="1" height="38" fill="#000"/>
<rect x="1184" y="143" width="11" height="5" fill="#000"/>
<rect x="1185" y="144" width="9" height="3" fill="#FF0000"/>
<rect x="1205" y="101" width="1" height="76" fill="#000"/>
<rect x="1200" y="143" width="11" height="21" fill="#000"/>
<rect x="1201" y="144" width="9" height="19" fill="#00FF00"/>
<rect x="1221" y="116" width="1" height="50" fill="#000"/>
<rect x="1216" y="122" width="11" height="42" fill="#000"/>
<rect x="1217" y="123" width="9" height="40" fill="#FF0000"/>
<rect x="1237" y="56" width="1" height="130" fill="#000"/>
<rect x="1232" y="65" width="11" height="58" fill="#000"/>
<rect x="1233" y="66" width="9" height="56" fill="#FF0000"/>
<rect x="1253" y="55" width="1" height="22" fill="#000"/>
<rect x="1248" y="64" width="11" height="2" fill="#000"/>
<rect x="1269" y="86" width="1" height="16" fill="#000"/>
<rect x="1264" y="92" width="11" height="9" fill="#000"/>
<rect x="1265" y="93" width="9" height="7" fill="#FF0000"/>
<rect x="1285" y="79" width="1" height="47" fill="#000"/>
<rect x="1280" y="92" width="11" height="12" fill="#000"/>
<rect x="1281" y="93" width="9" height="10" fill="#00FF00"/>
<rect x="1301" y="89" width="1" height="69" fill="#000"/>
<rect x="1296" y="103" width="11" height="29" fill="#000"/>
<rect x="1297" y="104" width="9" height="27" fill="#00FF00"/>
<rect x="1317" y="123" width="1" height="30" fill="#000"/>
<rect x="1312" y="129" width="11" height="3" fill="#000"/>
<rect x="1313" y="130" width="9" height="1" fill="#FF0000"/>
<rect x="1333" y="73" width="1" height="73" fill="#000"/>
<rect x="1328" y="90" width="11" height="40" fill="#000"/>
<rect x="1329" y="91" width="9" height="38" fill="#FF0000"/>
<rect x="1349" y="85" width="1" height="19" fill="#000"/>
<rect x="1344" y="90" width="11" height="7" fill="#000"/>
<rect x="1345" y="91" width="9" height="5" fill="#00FF00"/>
<rect x="1365" y="93" width="1" height="6" fill="#000"/>
<rect x="1360" y="96" width="11" height="1" fill="#000"/>
<rect x="5" y="503" width="1" height="21" fill="#000"/>
<rect x="5" y="512" width="6" height="2" fill="#000"/>
<rect x="5" y="33" width="1640" height="2" fill="#0000FF"/>
<rect x="5" y="62" width="1640" height="2" fill="#0000FF"/>
<rect x="1645" y="62" width="1" height="2" fill="#0000FF"/>
<rect x="4" y="60" width="6" height="6" fill="#0000FF"/>
<rect x="6" y="62" width="2" height="2" fill="#fff"/>
<rect x="1638" y="60" width="6" height="6" fill="#0000FF"/>
<rect x="1640" y="62" width="2" height="2" fill="#fff"/>
<rect x="5" y="108" width="1640" height="2" fill="#36CCC5"/>
<rect x="1645" y="108" width="1" height="2" fill="#36CCC5"/>
<rect x="4" y="106" width="6" height="6" fill="#36CCC5"/>
<rect x="6" y="108" width="2" height="2" fill="#fff"/>
<rect x="1638" y="106" width="6" height="6" fill="#36CCC5"/>
<rect x="1640" y="108" width="2" height="2" fill="#fff"/>
<rect x="5" y="142" width="1640" height="2" fill="#DC143C"/>
<rect x="5" y="173" width="1640" height="2" fill="#FF0000"/>
<rect x="1645" y="173" width="1" height="2" fill="#FF0000"/>
<rect x="4" y="171" width="6" height="6" fill="#FF0000"/>
<rect x="6" y="173" width="2" height="2" fill="#fff"/>
<rect x="1638" y="171" width="6" height="6" fill="#FF0000"/>
<rect x="1640" y="173" width="2" height="2" fill="#fff"/>
<rect x="1392" y="27" width="9" height="1" fill="#000"/>
<rect x="1393" y="28" width="7" height="1" fill="#000"/>
<rect x="1394" y="29" width="5" height="1" fill="#000"/>
<rect x="1395" y="30" width="3" height="1" fill="#000"/>
<rect x="1396" y="31" width="1" height="1" fill="#000"/>
<rect x="8" y="33" width="7" height="1" fill="#000"/>
<rect x="9" y="34" width="5" height="1" fill="#000"/>
<rect x="10" y="35" width="3" height="1" fill="#000"/>
<rect x="11" y="36" width="1" height="1" fill="#000"/>
<g shape-rendering="auto"><line x1="1268.6" y1="216.7" x2="1356" y2="183.9" stroke="#E8141E" stroke-width="3"/><polygon points="1352,175.9 1371.5,177.3 1358.3,192.1" fill="#E8141E"/></g>
<rect x="1645" y="30" width="2" height="1" fill="#000"/>
<text transform="translate(1650,34) scale(0.934,1)" fill="#000" stroke="#000" stroke-width="0.15" text-anchor="start" >144.090</text>
<rect x="1645" y="63" width="2" height="1" fill="#000"/>
<text transform="translate(1650,67) scale(0.934,1)" fill="#000" stroke="#000" stroke-width="0.15" text-anchor="start" >143.790</text>
<rect x="1645" y="96" width="2" height="1" fill="#000"/>
<text transform="translate(1650,100) scale(0.934,1)" fill="#000" stroke="#000" stroke-width="0.15" text-anchor="start" >143.490</text>
<rect x="1645" y="129" width="2" height="1" fill="#000"/>
<text transform="translate(1650,133) scale(0.934,1)" fill="#000" stroke="#000" stroke-width="0.15" text-anchor="start" >143.185</text>
<rect x="1645" y="162" width="2" height="1" fill="#000"/>
<text transform="translate(1650,166) scale(0.934,1)" fill="#000" stroke="#000" stroke-width="0.15" text-anchor="start" >142.885</text>
<rect x="1645" y="195" width="2" height="1" fill="#000"/>
<text transform="translate(1650,199) scale(0.934,1)" fill="#000" stroke="#000" stroke-width="0.15" text-anchor="start" >142.580</text>
<rect x="1645" y="228" width="2" height="1" fill="#000"/>
<text transform="translate(1650,232) scale(0.934,1)" fill="#000" stroke="#000" stroke-width="0.15" text-anchor="start" >142.275</text>
<rect x="1645" y="261" width="2" height="1" fill="#000"/>
<text transform="translate(1650,265) scale(0.934,1)" fill="#000" stroke="#000" stroke-width="0.15" text-anchor="start" >141.975</text>
<rect x="1645" y="294" width="2" height="1" fill="#000"/>
<text transform="translate(1650,298) scale(0.934,1)" fill="#000" stroke="#000" stroke-width="0.15" text-anchor="start" >141.670</text>
<rect x="1645" y="327" width="2" height="1" fill="#000"/>
<text transform="translate(1650,331) scale(0.934,1)" fill="#000" stroke="#000" stroke-width="0.15" text-anchor="start" >141.370</text>
<rect x="1645" y="360" width="2" height="1" fill="#000"/>
<text transform="translate(1650,364) scale(0.934,1)" fill="#000" stroke="#000" stroke-width="0.15" text-anchor="start" >141.065</text>
<rect x="1645" y="393" width="2" height="1" fill="#000"/>
<text transform="translate(1650,397) scale(0.934,1)" fill="#000" stroke="#000" stroke-width="0.15" text-anchor="start" >140.760</text>
<rect x="1645" y="426" width="2" height="1" fill="#000"/>
<text transform="translate(1650,430) scale(0.934,1)" fill="#000" stroke="#000" stroke-width="0.15" text-anchor="start" >140.460</text>
<rect x="1645" y="459" width="2" height="1" fill="#000"/>
<text transform="translate(1650,463) scale(0.934,1)" fill="#000" stroke="#000" stroke-width="0.15" text-anchor="start" >140.155</text>
<rect x="1645" y="492" width="2" height="1" fill="#000"/>
<text transform="translate(1650,496) scale(0.934,1)" fill="#000" stroke="#000" stroke-width="0.15" text-anchor="start" >139.855</text>
<rect x="1645" y="525" width="2" height="1" fill="#000"/>
<text transform="translate(1650,529) scale(0.934,1)" fill="#000" stroke="#000" stroke-width="0.15" text-anchor="start" >139.550</text>
<rect x="1645" y="558" width="2" height="1" fill="#000"/>
<text transform="translate(1650,562) scale(0.934,1)" fill="#000" stroke="#000" stroke-width="0.15" text-anchor="start" >139.245</text>
<rect x="1645" y="591" width="2" height="1" fill="#000"/>
<text transform="translate(1650,595) scale(0.934,1)" fill="#000" stroke="#000" stroke-width="0.15" text-anchor="start" >138.945</text>
<rect x="1645" y="624" width="2" height="1" fill="#000"/>
<text transform="translate(1650,628) scale(0.934,1)" fill="#000" stroke="#000" stroke-width="0.15" text-anchor="start" >138.640</text>
<rect x="1646" y="28" width="41" height="11" fill="#0000FF"/>
<text transform="translate(1650,37) scale(0.934,1)" fill="#fff" stroke="#fff" stroke-width="0.15" text-anchor="start" >144.065</text>
<rect x="1646" y="57" width="41" height="11" fill="#0000FF"/>
<text transform="translate(1650,66) scale(0.934,1)" fill="#fff" stroke="#fff" stroke-width="0.15" text-anchor="start" >143.792</text>
<rect x="1646" y="90" width="41" height="11" fill="#000"/>
<text transform="translate(1650,99) scale(0.934,1)" fill="#fff" stroke="#fff" stroke-width="0.15" text-anchor="start" >143.497</text>
<rect x="1646" y="103" width="41" height="11" fill="#48D1CC"/>
<text transform="translate(1650,112) scale(0.934,1)" fill="#fff" stroke="#fff" stroke-width="0.15" text-anchor="start" >143.368</text>
<rect x="1646" y="137" width="41" height="11" fill="#DC143C"/>
<text transform="translate(1650,146) scale(0.934,1)" fill="#fff" stroke="#fff" stroke-width="0.15" text-anchor="start" >143.064</text>
<rect x="1646" y="168" width="41" height="11" fill="#FF0000"/>
<text transform="translate(1650,177) scale(0.934,1)" fill="#fff" stroke="#fff" stroke-width="0.15" text-anchor="start" >142.773</text>
<text transform="translate(9,642) scale(0.934,1)" fill="#000" stroke="#000" stroke-width="0.15" text-anchor="start"  textLength="137.0" lengthAdjust="spacing">MACD(12,26,9) 0.4854 0.5450</text>
<rect x="20" y="710" width="3" height="1" fill="#00FF00"/>
<rect x="36" y="710" width="3" height="4" fill="#00FF00"/>
<rect x="52" y="710" width="3" height="5" fill="#00FF00"/>
<rect x="68" y="710" width="3" height="6" fill="#00FF00"/>
<rect x="100" y="704" width="3" height="6" fill="#00FF00"/>
<rect x="116" y="702" width="3" height="8" fill="#00FF00"/>
<rect x="132" y="702" width="3" height="8" fill="#00FF00"/>
<rect x="148" y="703" width="3" height="7" fill="#00FF00"/>
<rect x="164" y="704" width="3" height="6" fill="#00FF00"/>
<rect x="180" y="710" width="3" height="4" fill="#00FF00"/>
<rect x="196" y="710" width="3" height="10" fill="#00FF00"/>
<rect x="212" y="710" width="3" height="16" fill="#00FF00"/>
<rect x="228" y="710" width="3" height="16" fill="#00FF00"/>
<rect x="244" y="710" width="3" height="13" fill="#00FF00"/>
<rect x="260" y="710" width="3" height="12" fill="#00FF00"/>
<rect x="276" y="710" width="3" height="12" fill="#00FF00"/>
<rect x="292" y="710" width="3" height="10" fill="#00FF00"/>
<rect x="308" y="710" width="3" height="10" fill="#00FF00"/>
<rect x="324" y="710" width="3" height="10" fill="#00FF00"/>
<rect x="340" y="710" width="3" height="8" fill="#00FF00"/>
<rect x="356" y="710" width="3" height="8" fill="#00FF00"/>
<rect x="372" y="710" width="3" height="4" fill="#00FF00"/>
<rect x="388" y="710" width="3" height="3" fill="#00FF00"/>
<rect x="404" y="710" width="3" height="3" fill="#00FF00"/>
<rect x="420" y="710" width="3" height="3" fill="#00FF00"/>
<rect x="436" y="710" width="3" height="3" fill="#00FF00"/>
<rect x="452" y="710" width="3" height="2" fill="#00FF00"/>
<rect x="468" y="706" width="3" height="4" fill="#00FF00"/>
<rect x="484" y="700" width="3" height="10" fill="#00FF00"/>
<rect x="500" y="696" width="3" height="14" fill="#00FF00"/>
<rect x="516" y="694" width="3" height="16" fill="#00FF00"/>
<rect x="532" y="693" width="3" height="17" fill="#00FF00"/>
<rect x="548" y="692" width="3" height="18" fill="#00FF00"/>
<rect x="564" y="699" width="3" height="11" fill="#00FF00"/>
<rect x="580" y="698" width="3" height="12" fill="#00FF00"/>
<rect x="596" y="697" width="3" height="13" fill="#00FF00"/>
<rect x="612" y="685" width="3" height="25" fill="#00FF00"/>
<rect x="628" y="674" width="3" height="36" fill="#00FF00"/>
<rect x="644" y="666" width="3" height="44" fill="#00FF00"/>
<rect x="660" y="668" width="3" height="42" fill="#00FF00"/>
<rect x="676" y="673" width="3" height="37" fill="#00FF00"/>
<rect x="692" y="677" width="3" height="33" fill="#00FF00"/>
<rect x="708" y="677" width="3" height="33" fill="#00FF00"/>
<rect x="724" y="672" width="3" height="38" fill="#00FF00"/>
<rect x="740" y="670" width="3" height="40" fill="#00FF00"/>
<rect x="756" y="661" width="3" height="49" fill="#00FF00"/>
<rect x="772" y="654" width="3" height="56" fill="#00FF00"/>
<rect x="788" y="649" width="3" height="61" fill="#00FF00"/>
<rect x="804" y="648" width="3" height="62" fill="#00FF00"/>
<rect x="820" y="646" width="3" height="64" fill="#00FF00"/>
<rect x="836" y="645" width="3" height="65" fill="#00FF00"/>
<rect x="852" y="644" width="3" height="66" fill="#00FF00"/>
<rect x="868" y="644" width="3" height="66" fill="#00FF00"/>
<rect x="884" y="645" width="3" height="65" fill="#00FF00"/>
<rect x="900" y="648" width="3" height="62" fill="#00FF00"/>
<rect x="916" y="651" width="3" height="59" fill="#00FF00"/>
<rect x="932" y="658" width="3" height="52" fill="#00FF00"/>
<rect x="948" y="663" width="3" height="47" fill="#00FF00"/>
<rect x="964" y="667" width="3" height="43" fill="#00FF00"/>
<rect x="980" y="673" width="3" height="37" fill="#00FF00"/>
<rect x="996" y="674" width="3" height="36" fill="#00FF00"/>
<rect x="1012" y="671" width="3" height="39" fill="#00FF00"/>
<rect x="1028" y="672" width="3" height="38" fill="#00FF00"/>
<rect x="1044" y="671" width="3" height="39" fill="#00FF00"/>
<rect x="1060" y="673" width="3" height="37" fill="#00FF00"/>
<rect x="1076" y="676" width="3" height="34" fill="#00FF00"/>
<rect x="1092" y="678" width="3" height="32" fill="#00FF00"/>
<rect x="1108" y="680" width="3" height="30" fill="#00FF00"/>
<rect x="1124" y="678" width="3" height="32" fill="#00FF00"/>
<rect x="1140" y="670" width="3" height="40" fill="#00FF00"/>
<rect x="1156" y="661" width="3" height="49" fill="#00FF00"/>
<rect x="1172" y="656" width="3" height="54" fill="#00FF00"/>
<rect x="1188" y="652" width="3" height="58" fill="#00FF00"/>
<rect x="1204" y="651" width="3" height="59" fill="#00FF00"/>
<rect x="1220" y="648" width="3" height="62" fill="#00FF00"/>
<rect x="1236" y="641" width="3" height="69" fill="#00FF00"/>
<rect x="1252" y="636" width="3" height="74" fill="#00FF00"/>
<rect x="1268" y="635" width="3" height="75" fill="#00FF00"/>
<rect x="1284" y="636" width="3" height="74" fill="#00FF00"/>
<rect x="1300" y="641" width="3" height="69" fill="#00FF00"/>
<rect x="1316" y="645" width="3" height="65" fill="#00FF00"/>
<rect x="1332" y="646" width="3" height="64" fill="#00FF00"/>
<rect x="1348" y="647" width="3" height="63" fill="#00FF00"/>
<rect x="1364" y="649" width="3" height="61" fill="#00FF00"/>
<rect x="5" y="709" width="2" height="1" fill="#00FF00"/>
<polyline points="5.5,705.0 21.5,706.0 37.5,708.0 53.5,709.0 69.5,710.4 85.5,711.0 101.5,710.6 117.5,709.0 133.5,708.6 149.5,708.0 165.5,707.0 181.5,707.2 197.5,708.0 213.5,709.0 229.5,711.0 245.5,712.8 261.5,714.8 277.5,716.8 293.5,718.9 309.5,720.7 325.5,720.9 341.5,720.9 357.5,720.9 373.5,719.5 389.5,718.2 405.5,717.2 421.5,716.2 437.5,715.2 453.5,714.2 469.5,712.8 485.5,711.8 501.5,708.4 517.5,706.6 533.5,705.0 549.5,702.6 565.5,701.0 581.5,700.0 597.5,697.7 613.5,695.3 629.5,692.3 645.5,689.3 661.5,686.3 677.5,684.5 693.5,682.9 709.5,680.5 725.5,677.7 741.5,674.6 757.5,671.6 773.5,669.6 789.5,667.6 805.5,664.8 821.5,661.8 837.5,658.8 853.5,654.7 869.5,651.7 885.5,648.5 901.5,648.1 917.5,647.1 933.5,648.1 949.5,649.1 965.5,652.1 981.5,655.1 997.5,658.2 1013.5,661.2 1029.5,663.8 1045.5,666.8 1061.5,669.2 1077.5,671.6 1093.5,673.6 1109.5,674.6 1125.5,674.6 1141.5,674.2 1157.5,673.6 1173.5,671.6 1189.5,669.6 1205.5,667.6 1221.5,664.8 1237.5,660.8 1253.5,655.7 1269.5,650.6 1285.5,646.2 1301.5,644.5 1317.5,643.7 1333.5,642.7 1349.5,642.1 1365.5,642.1" fill="none" stroke="#FF0000" stroke-width="2"/>
<rect x="1645" y="631" width="1" height="1" fill="#000"/>
<rect x="1645" y="710" width="1" height="1" fill="#000"/>
<rect x="1645" y="729" width="1" height="1" fill="#000"/>
<text transform="translate(1648,640) scale(0.934,1)" fill="#000" stroke="#000" stroke-width="0.15" text-anchor="start" >0.6349</text>
<text transform="translate(1648,714) scale(0.934,1)" fill="#000" stroke="#000" stroke-width="0.15" text-anchor="start" >0.00</text>
<text transform="translate(1648,727) scale(0.934,1)" fill="#000" stroke="#000" stroke-width="0.15" text-anchor="start" >-0.1529</text>
<text transform="translate(9,745) scale(0.934,1)" fill="#000" stroke="#000" stroke-width="0.15" text-anchor="start"  textLength="72.8" lengthAdjust="spacing">RSI(14) 64.5745</text>
<line x1="6" y1="751.5" x2="1644" y2="751.5" stroke="#000" stroke-width="1" stroke-dasharray="3,3"/>
<line x1="6" y1="777.5" x2="1644" y2="777.5" stroke="#000" stroke-width="1" stroke-dasharray="3,3"/>
<line x1="6" y1="807.5" x2="1644" y2="807.5" stroke="#000" stroke-width="1" stroke-dasharray="3,3"/>
<polyline points="5.5,776.6 21.5,778.2 37.5,780.4 53.5,779.8 69.5,779.4 85.5,770.8 101.5,768.8 117.5,773.4 133.5,775.2 149.5,776.2 165.5,776.6 181.5,786.3 197.5,785.9 213.5,785.3 229.5,780.2 245.5,776.6 261.5,778.6 277.5,778.6 293.5,778.6 309.5,778.6 325.5,778.3 341.5,776.6 357.5,778.6 373.5,773.8 389.5,776.2 405.5,776.6 421.5,778.6 437.5,777.8 453.5,776.6 469.5,768.2 485.5,765.8 501.5,765.8 517.5,769.6 533.5,769.6 549.5,769.6 565.5,783.2 581.5,773.2 597.5,772.8 613.5,761.1 629.5,759.7 645.5,759.7 661.5,772.6 677.5,774.6 693.5,774.6 709.5,771.2 725.5,766.8 741.5,768.2 757.5,762.1 773.5,762.1 789.5,762.1 805.5,765.8 821.5,764.2 837.5,763.8 853.5,763.8 869.5,762.7 885.5,763.8 901.5,767.2 917.5,767.2 933.5,772.8 949.5,772.8 965.5,772.4 981.5,773.8 997.5,770.2 1013.5,764.6 1029.5,768.8 1045.5,767.2 1061.5,771.2 1077.5,772.8 1093.5,772.6 1109.5,771.8 1125.5,767.8 1141.5,760.1 1157.5,758.7 1173.5,759.7 1189.5,759.7 1205.5,762.7 1221.5,760.1 1237.5,756.5 1253.5,756.1 1269.5,761.6 1285.5,763.2 1301.5,766.8 1317.5,766.8 1333.5,763.8 1349.5,763.8 1365.5,763.8" fill="none" stroke="#1E90FF" stroke-width="2"/>
<rect x="1645" y="734" width="1" height="1" fill="#000"/>
<text transform="translate(1648,743) scale(0.934,1)" fill="#000" stroke="#000" stroke-width="0.15" text-anchor="start" >100</text>
<text transform="translate(1647,755) scale(0.934,1)" fill="#000" stroke="#000" stroke-width="0.15" text-anchor="start" >80</text>
<text transform="translate(1647,781) scale(0.934,1)" fill="#000" stroke="#000" stroke-width="0.15" text-anchor="start" >50</text>
<text transform="translate(1647,811) scale(0.934,1)" fill="#000" stroke="#000" stroke-width="0.15" text-anchor="start" >15</text>
<text transform="translate(1648,818) scale(0.934,1)" fill="#000" stroke="#000" stroke-width="0.15" text-anchor="start" >0</text>
<rect x="5" y="822" width="1" height="3" fill="#000"/>
<text transform="translate(4,834) scale(0.934,1)" fill="#000" stroke="#000" stroke-width="0.15" text-anchor="start"  textLength="48.7" lengthAdjust="spacing">6 Jun 2023</text>
<rect x="69" y="822" width="1" height="3" fill="#000"/>
<text transform="translate(68.3,834) scale(0.934,1)" fill="#000" stroke="#000" stroke-width="0.15" text-anchor="start"  textLength="50.9" lengthAdjust="spacing">7 Jun 08:00</text>
<rect x="133" y="822" width="1" height="3" fill="#000"/>
<text transform="translate(132.3,834) scale(0.934,1)" fill="#000" stroke="#000" stroke-width="0.15" text-anchor="start"  textLength="50.9" lengthAdjust="spacing">8 Jun 00:00</text>
<rect x="197" y="822" width="1" height="3" fill="#000"/>
<text transform="translate(196.3,834) scale(0.934,1)" fill="#000" stroke="#000" stroke-width="0.15" text-anchor="start"  textLength="50.9" lengthAdjust="spacing">8 Jun 16:00</text>
<rect x="261" y="822" width="1" height="3" fill="#000"/>
<text transform="translate(260.3,834) scale(0.934,1)" fill="#000" stroke="#000" stroke-width="0.15" text-anchor="start"  textLength="50.9" lengthAdjust="spacing">9 Jun 08:00</text>
<rect x="325" y="822" width="1" height="3" fill="#000"/>
<text transform="translate(324.3,834) scale(0.934,1)" fill="#000" stroke="#000" stroke-width="0.15" text-anchor="start"  textLength="56.7" lengthAdjust="spacing">12 Jun 00:00</text>
<rect x="389" y="822" width="1" height="3" fill="#000"/>
<text transform="translate(388.3,834) scale(0.934,1)" fill="#000" stroke="#000" stroke-width="0.15" text-anchor="start"  textLength="56.7" lengthAdjust="spacing">12 Jun 16:00</text>
<rect x="453" y="822" width="1" height="3" fill="#000"/>
<text transform="translate(452.3,834) scale(0.934,1)" fill="#000" stroke="#000" stroke-width="0.15" text-anchor="start"  textLength="56.7" lengthAdjust="spacing">13 Jun 08:00</text>
<rect x="517" y="822" width="1" height="3" fill="#000"/>
<text transform="translate(516.3,834) scale(0.934,1)" fill="#000" stroke="#000" stroke-width="0.15" text-anchor="start"  textLength="56.7" lengthAdjust="spacing">14 Jun 00:00</text>
<rect x="581" y="822" width="1" height="3" fill="#000"/>
<text transform="translate(580.3,834) scale(0.934,1)" fill="#000" stroke="#000" stroke-width="0.15" text-anchor="start"  textLength="56.7" lengthAdjust="spacing">14 Jun 16:00</text>
<rect x="645" y="822" width="1" height="3" fill="#000"/>
<text transform="translate(644.3,834) scale(0.934,1)" fill="#000" stroke="#000" stroke-width="0.15" text-anchor="start"  textLength="56.7" lengthAdjust="spacing">15 Jun 08:00</text>
<rect x="709" y="822" width="1" height="3" fill="#000"/>
<text transform="translate(708.3,834) scale(0.934,1)" fill="#000" stroke="#000" stroke-width="0.15" text-anchor="start"  textLength="56.7" lengthAdjust="spacing">16 Jun 00:00</text>
<rect x="773" y="822" width="1" height="3" fill="#000"/>
<text transform="translate(772.3,834) scale(0.934,1)" fill="#000" stroke="#000" stroke-width="0.15" text-anchor="start"  textLength="56.7" lengthAdjust="spacing">16 Jun 16:00</text>
<rect x="837" y="822" width="1" height="3" fill="#000"/>
<text transform="translate(836.3,834) scale(0.934,1)" fill="#000" stroke="#000" stroke-width="0.15" text-anchor="start"  textLength="56.7" lengthAdjust="spacing">19 Jun 08:00</text>
<rect x="901" y="822" width="1" height="3" fill="#000"/>
<text transform="translate(900.3,834) scale(0.934,1)" fill="#000" stroke="#000" stroke-width="0.15" text-anchor="start"  textLength="56.7" lengthAdjust="spacing">20 Jun 00:00</text>
<rect x="965" y="822" width="1" height="3" fill="#000"/>
<text transform="translate(964.3,834) scale(0.934,1)" fill="#000" stroke="#000" stroke-width="0.15" text-anchor="start"  textLength="56.7" lengthAdjust="spacing">20 Jun 16:00</text>
<rect x="1029" y="822" width="1" height="3" fill="#000"/>
<text transform="translate(1028.3,834) scale(0.934,1)" fill="#000" stroke="#000" stroke-width="0.15" text-anchor="start"  textLength="56.7" lengthAdjust="spacing">21 Jun 08:00</text>
<rect x="1093" y="822" width="1" height="3" fill="#000"/>
<text transform="translate(1092.3,834) scale(0.934,1)" fill="#000" stroke="#000" stroke-width="0.15" text-anchor="start"  textLength="56.7" lengthAdjust="spacing">22 Jun 00:00</text>
<rect x="1157" y="822" width="1" height="3" fill="#000"/>
<text transform="translate(1156.3,834) scale(0.934,1)" fill="#000" stroke="#000" stroke-width="0.15" text-anchor="start"  textLength="56.7" lengthAdjust="spacing">22 Jun 16:00</text>
<rect x="1221" y="822" width="1" height="3" fill="#000"/>
<text transform="translate(1220.3,834) scale(0.934,1)" fill="#000" stroke="#000" stroke-width="0.15" text-anchor="start"  textLength="56.7" lengthAdjust="spacing">23 Jun 08:00</text>
<rect x="1285" y="822" width="1" height="3" fill="#000"/>
<text transform="translate(1284.3,834) scale(0.934,1)" fill="#000" stroke="#000" stroke-width="0.15" text-anchor="start"  textLength="56.7" lengthAdjust="spacing">26 Jun 00:00</text>
<rect x="1349" y="822" width="1" height="3" fill="#000"/>
<text transform="translate(1348.3,834) scale(0.934,1)" fill="#000" stroke="#000" stroke-width="0.15" text-anchor="start"  textLength="56.7" lengthAdjust="spacing">26 Jun 16:00</text>
</svg>
</body></html>
